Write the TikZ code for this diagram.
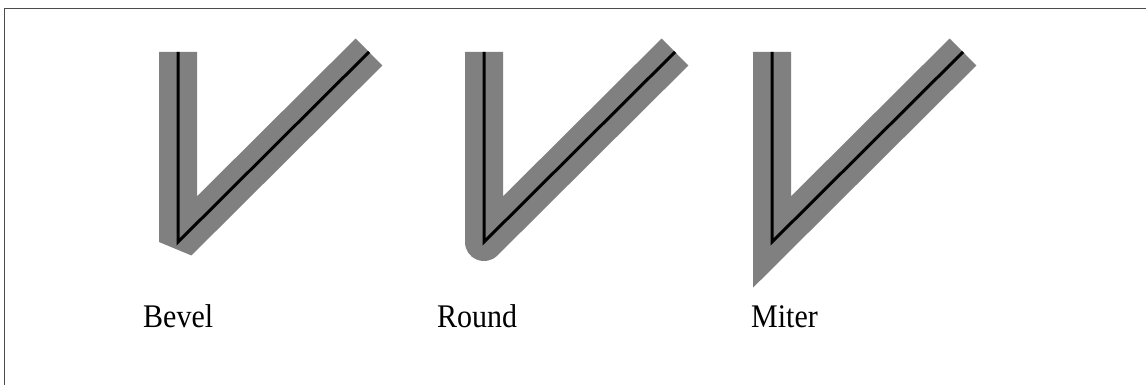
\documentclass[tikz,border=0pt]{standalone}
\usepackage{fontspec}
\setmainfont{Liberation Serif}
\begin{document}
\begin{tikzpicture}[x=1pt,y=-1pt,
  frame/.style={draw=black!70,line width=1.6pt},
  thick gray/.style={draw=gray,line width=38pt,line cap=butt},
  thin black/.style={draw=black,line width=3pt,line cap=butt,line join=miter},
  lbl/.style={anchor=base west,inner sep=0pt,font=\fontsize{30}{36}\selectfont}]
\useasboundingbox (0,0) rectangle (1146,385);
\coordinate (fa) at (4.5,385);
\coordinate (fb) at (4.5,8.5);
\coordinate (fc) at (1146,8.5);
\draw[frame] (fa) -- (fb) -- (fc);
% Bevel
\coordinate (b1) at (178,52);
\coordinate (b2) at (178,242);
\coordinate (b3) at (369,52);
\draw[thick gray,line join=bevel] (b1) -- (b2) -- (b3);
\draw[thin black] (b1) -- (b2) -- (b3);
% Round
\coordinate (r1) at (484,52);
\coordinate (r2) at (484,242);
\coordinate (r3) at (675,52);
\draw[thick gray,line join=round] (r1) -- (r2) -- (r3);
\draw[thin black] (r1) -- (r2) -- (r3);
% Miter
\coordinate (m1) at (772,52);
\coordinate (m2) at (772,242);
\coordinate (m3) at (963,52);
\draw[thick gray,line join=miter,miter limit=10] (m1) -- (m2) -- (m3);
\draw[thin black] (m1) -- (m2) -- (m3);
\node[lbl] (lb) at (143,327) {\scalebox{1}[1.1]{Bevel}};
\node[lbl] (lr) at (437,327) {\scalebox{1}[1.1]{Round}};
\node[lbl] (lm) at (751,327) {\scalebox{1}[1.1]{Miter}};
\end{tikzpicture}
\end{document}
